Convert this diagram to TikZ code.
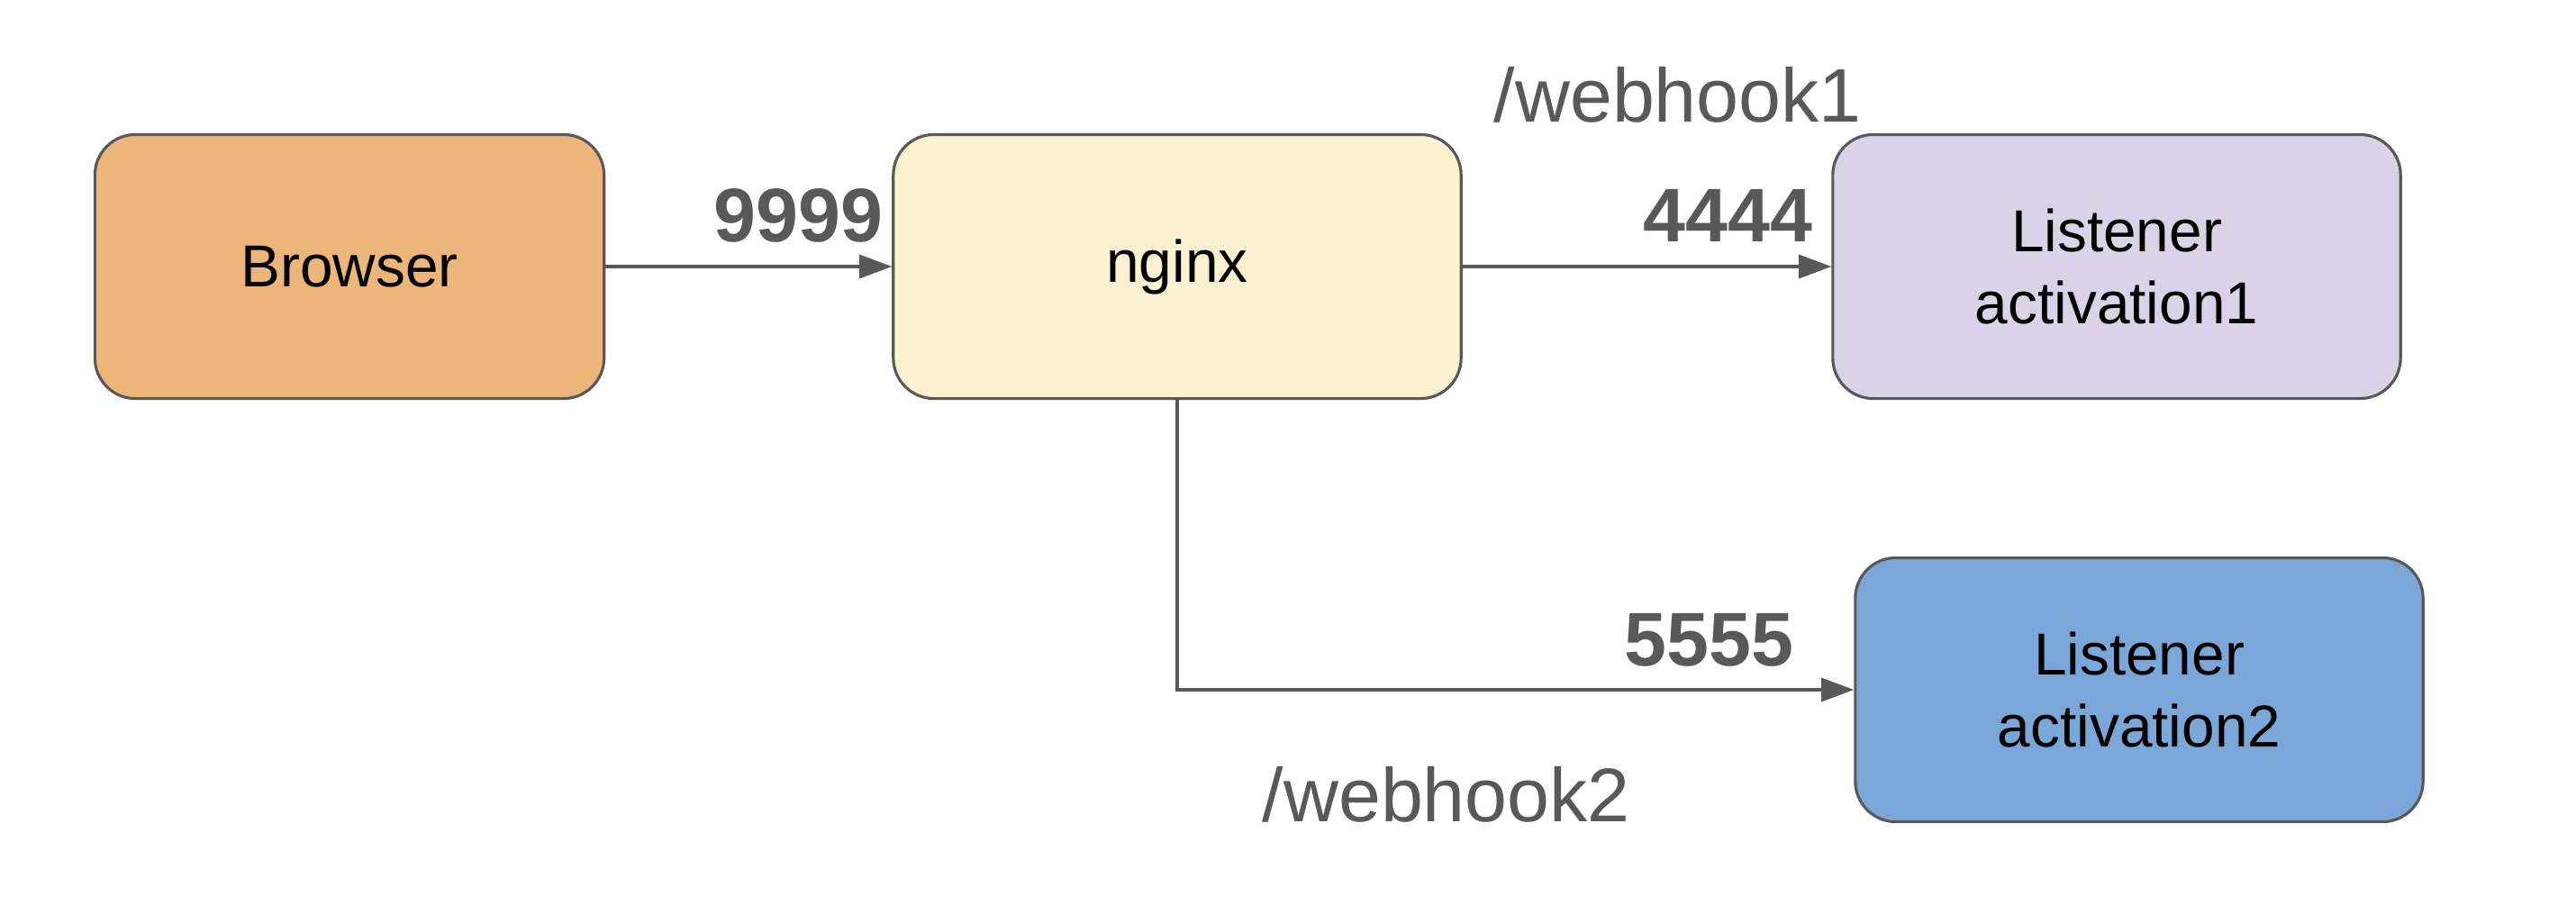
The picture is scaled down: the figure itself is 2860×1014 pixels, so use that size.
\documentclass[tikz,border=0pt]{standalone}
\usepackage{fontspec}
\setmainfont{Liberation Sans}
\usetikzlibrary{arrows.meta}

\definecolor{edgegray}{HTML}{595959}
\definecolor{browserorange}{HTML}{ECB57A}
\definecolor{nginxyellow}{HTML}{FCF1D1}
\definecolor{lispurple}{HTML}{D9D3E8}
\definecolor{lisblue}{HTML}{7BA7D8}

\begin{document}
\begin{tikzpicture}[x=0.01cm,y=-0.01cm,
    every text node part/.style={align=center},
    box/.style={draw=edgegray, line width=0.9pt, rounded corners=0.45cm,
      minimum width=6.3cm, minimum height=2.93cm, inner sep=0pt,
      font=\fontsize{18.7}{22.8}\selectfont},
    port/.style={text=edgegray, inner sep=0pt,
      font=\fontsize{24}{29}\selectfont\bfseries},
    route/.style={text=edgegray, inner sep=0pt,
      font=\fontsize{24}{29}\selectfont},
    link/.style={draw=edgegray, line width=0.9pt,
      -{Triangle[length=3.6mm,width=2.6mm]}}]

    \useasboundingbox (0,0) rectangle (2860,1014);

    \node[box, fill=browserorange, minimum width=5.65cm] (Browser) at (388,296) {Browser};
    \node[box, fill=nginxyellow]  (Nginx)   at (1307,296) {nginx};
    \node[box, fill=lispurple]    (ListOne) at (2350,296) {Listener\\activation1};
    \node[box, fill=lisblue]      (ListTwo) at (2375,766) {Listener\\activation2};

    \node[port, anchor=base east]  (PortNginx)  at (981,268)  {9999};
    \node[port, anchor=base east]  (PortOne)    at (2013,268) {4444};
    \node[port, anchor=base east]  (PortTwo)    at (1992,739) {5555};
    \node[route, anchor=base west] (RouteOne)   at (1658,135) {/webhook1};
    \node[route, anchor=base west] (RouteTwo)   at (1401,912) {/webhook2};

    \draw[link] (Browser) -- (Nginx);
    \draw[link] (Nginx)   -- (ListOne);
    \draw[link] (Nginx.south) |- (ListTwo.west);
  \end{tikzpicture}
\end{document}
